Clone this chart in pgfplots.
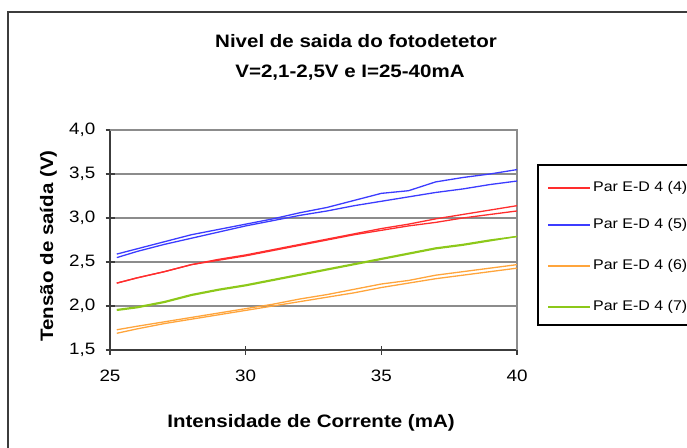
\documentclass[border=0pt]{standalone}
\usepackage{fontspec}
\setmainfont{Liberation Sans}[FakeStretch=1.14]
\usepackage{pgfplots}
\pgfplotsset{compat=1.18}

\definecolor{serred}{RGB}{255,45,45}
\definecolor{serblue}{RGB}{60,60,255}
\definecolor{serorange}{RGB}{255,165,60}
\definecolor{sergreen}{RGB}{140,200,25}
\definecolor{gridgray}{RGB}{140,140,140}
\definecolor{axisgray}{RGB}{60,60,60}

\begin{document}
\begin{tikzpicture}[x=1pt,y=1pt]
\useasboundingbox (0,0) rectangle (687,447);
% chart area frame
\draw[axisgray,line width=1.3pt] (8,-20) -- (8,435) -- (720,435);

% title
\node[font=\bfseries\fontsize{18}{20}\selectfont,anchor=base,inner sep=0pt]
  at (356,399) {Nivel de saida do fotodetetor};
\node[font=\bfseries\fontsize{18}{20}\selectfont,anchor=base,inner sep=0pt]
  at (350,369) {V=2,1-2,5V e I=25-40mA};

\begin{axis}[
  at={(110pt,97pt)}, anchor=south west,
  scale only axis, width=407pt, height=220pt,
  xmin=25, xmax=40, ymin=1.5, ymax=4.0,
  xtick={25,30,35,40}, ytick={1.5,2.0,...,4.0},
  /pgf/number format/assume math mode=true,
  /pgf/number format/use comma,
  /pgf/number format/fixed,
  /pgf/number format/fixed zerofill,
  yticklabel style={/pgf/number format/precision=1,font=\fontsize{16.5}{18}\selectfont,inner sep=0pt,xshift=-10pt},
  xticklabel style={/pgf/number format/precision=0,font=\fontsize{16.5}{18}\selectfont,inner sep=0pt,yshift=-15pt},
  xlabel={Intensidade de Corrente (mA)},
  ylabel={Tensão de saída (V)},
  xlabel style={font=\bfseries\fontsize{18}{20}\selectfont,at={(axis description cs:0.494,-0.35)},anchor=base,inner sep=0pt},
  ylabel style={font=\bfseries\fontsize{18}{20}\selectfont,at={(axis description cs:-0.14,0.473)},anchor=base,inner sep=0pt},
  ymajorgrids, grid style={gridgray,line width=1.3pt},
  axis line style={axisgray,line width=1.3pt},
  axis x line*=bottom, axis y line*=left,
  tick style={axisgray,line width=1.3pt},
  major tick length=9pt,
  tick align=center,
  every outer x axis line/.append style={-},
  every outer y axis line/.append style={-},
  clip=false,
]
% plot area border (top and right)
\draw[gridgray,line width=1.3pt] (axis cs:25,4.0) -- (axis cs:40,4.0) -- (axis cs:40,1.5);

% Par E-D 4 (5)
\addplot[serblue,line width=1.3pt] coordinates {
 (25.25,2.59) (26,2.65) (27,2.73) (28,2.81) (29,2.87) (30,2.93) (31,2.99) (32,3.06)
 (33,3.12) (34,3.20) (35,3.28) (36,3.31) (37,3.41) (38,3.46) (39,3.50) (40,3.55)};
\addplot[serblue,line width=1.3pt] coordinates {
 (25.25,2.55) (26,2.62) (27,2.70) (28,2.77) (29,2.84) (30,2.91) (31,2.97) (32,3.03)
 (33,3.08) (34,3.14) (35,3.19) (36,3.24) (37,3.29) (38,3.33) (39,3.38) (40,3.42)};
% Par E-D 4 (4)
\addplot[serred,line width=1.3pt] coordinates {
 (25.25,2.26) (26,2.32) (27,2.39) (28,2.47) (29,2.53) (30,2.58) (31,2.64) (32,2.70)
 (33,2.76) (34,2.82) (35,2.88) (36,2.93) (37,2.99) (38,3.04) (39,3.09) (40,3.14)};
\addplot[serred,line width=1.3pt] coordinates {
 (25.25,2.26) (26,2.32) (27,2.39) (28,2.47) (29,2.52) (30,2.57) (31,2.63) (32,2.69)
 (33,2.75) (34,2.81) (35,2.86) (36,2.91) (37,2.95) (38,3.00) (39,3.04) (40,3.08)};
% Par E-D 4 (7)
\addplot[sergreen,line width=1.3pt] coordinates {
 (25.25,1.96) (26,1.99) (27,2.05) (28,2.13) (29,2.19) (30,2.24) (31,2.30) (32,2.36)
 (33,2.42) (34,2.48) (35,2.54) (36,2.60) (37,2.66) (38,2.70) (39,2.75) (40,2.79)};
\addplot[sergreen,line width=1.3pt] coordinates {
 (25.25,1.95) (26,1.98) (27,2.04) (28,2.12) (29,2.18) (30,2.23) (31,2.29) (32,2.35)
 (33,2.41) (34,2.47) (35,2.53) (36,2.59) (37,2.65) (38,2.69) (39,2.74) (40,2.79)};
% Par E-D 4 (6)
\addplot[serorange,line width=1.3pt] coordinates {
 (25.25,1.73) (26,1.77) (27,1.82) (28,1.87) (29,1.92) (30,1.97) (31,2.02) (32,2.08)
 (33,2.13) (34,2.19) (35,2.25) (36,2.29) (37,2.35) (38,2.39) (39,2.43) (40,2.47)};
\addplot[serorange,line width=1.3pt] coordinates {
 (25.25,1.69) (26,1.74) (27,1.80) (28,1.85) (29,1.90) (30,1.95) (31,2.00) (32,2.05)
 (33,2.10) (34,2.15) (35,2.21) (36,2.26) (37,2.31) (38,2.35) (39,2.39) (40,2.43)};
\end{axis}

% legend
\draw[black,line width=1.1pt] (720,282) -- (538,282) -- (538,122) -- (720,122);
\foreach \c/\t/\yy in {serred/4/259, serblue/5/222, serorange/6/181, sergreen/7/140}{
  \draw[\c,line width=1.6pt] (548,\yy) -- (590,\yy);
  \node[anchor=west,inner sep=0pt,font=\fontsize{14}{16}\selectfont] at (593,\yy) {Par E-D 4 (\t)};
}
\end{tikzpicture}
\end{document}
